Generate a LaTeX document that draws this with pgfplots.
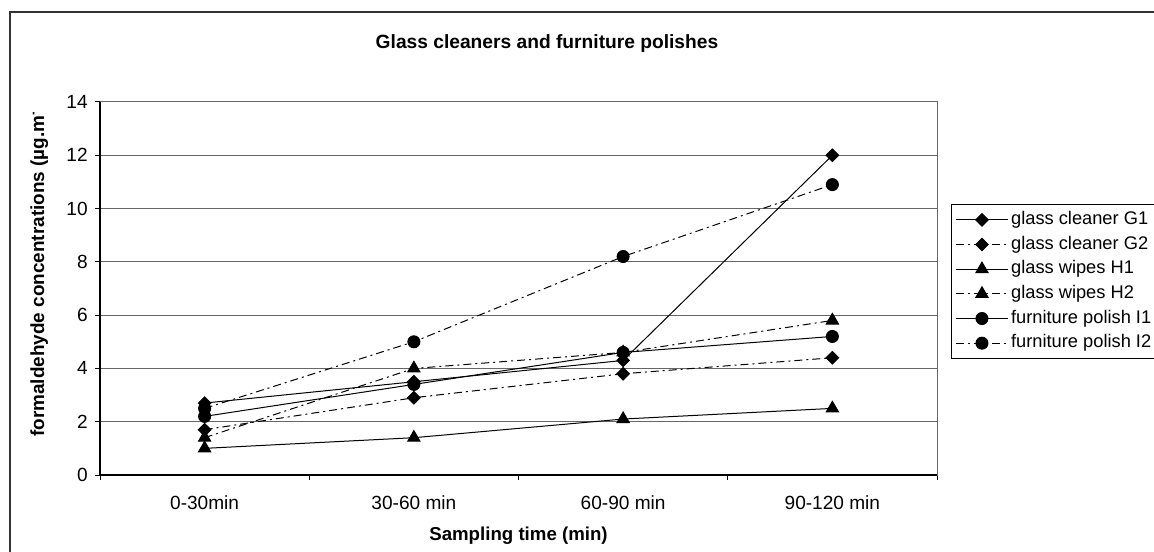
\documentclass[border=0pt]{standalone}
\usepackage{pgfplots}
\pgfplotsset{compat=1.18}
\usepackage{fontspec}
\setmainfont{Liberation Sans}
\pgfplotstableread{
x G1 G2 H1 H2 I1 I2
0 2.7 1.7 1.0 1.4 2.2 2.5
1 3.5 2.9 1.4 4.0 3.4 5.0
2 4.3 3.8 2.1 4.6 4.6 8.2
3 12.0 4.4 2.5 5.8 5.2 10.9
}\datatable
\begin{document}
\begin{tikzpicture}[x=0.75pt,y=-0.75pt]
\path[use as bounding box] (0,0) rectangle (1154,552);
\draw[line width=1pt, black!80] (10,570) -- (10,12) -- (1170,12);
\node[font=\bfseries\fontsize{14.4}{17}\selectfont] at (547,44) {Glass cleaners and furniture polishes};
\begin{scope}
\clip (0,113) rectangle (100,552);
\node[font=\bfseries\fontsize{14.2}{16}\selectfont, rotate=90, anchor=base west, inner sep=0pt] at (44,437) {formaldehyde concentrations (µg.m\textsuperscript{-3})};
\end{scope}
\begin{axis}[
  at={(75pt,-356.25pt)}, anchor=south west,
  scale only axis, width=627.75pt, height=279.75pt,
  xmin=-0.5, xmax=3.5, ymin=0, ymax=14,
  xtick={-0.5,0.5,1.5,2.5,3.5},
  x tick label as interval,
  xticklabels={0-30min,30-60 min,60-90 min,90-120 min},
  ytick={0,2,...,14},
  xtick pos=bottom, ytick pos=left,
  tick align=outside, major tick length=3.75pt,
  tick style={black, line width=0.75pt},
  ymajorgrids, grid style={gray!80!black, line width=0.75pt},
  axis line style={gray!80!black, line width=0.75pt},
  /pgf/number format/assume math mode=true,
  tick label style={font=\fontsize{14.3}{16}\selectfont},
  xticklabel style={yshift=-8pt},
  yticklabel style={xshift=-2pt},
  xlabel={Sampling time (min)},
  xlabel style={font=\bfseries\fontsize{14}{16}\selectfont, yshift=-6pt},
  legend style={at={(1.0167,0.7265)}, anchor=north west, draw=black, line width=0.75pt,
    font=\fontsize{13.7}{16}\selectfont, row sep=1.5pt, inner sep=3pt,
    nodes={inner sep=2pt, text height=10pt, text depth=3pt}},
  legend cell align=left,
  every axis plot/.append style={black, line width=0.75pt,
    legend image code/.code={\draw[mark repeat=2,mark phase=2] plot coordinates {(0pt,0pt) (19.5pt,0pt) (39pt,0pt)};}},
  after end axis/.code={\draw[black, line width=1pt] (rel axis cs:0,1) -- (rel axis cs:0,0) -- (rel axis cs:1,0);},
  clip=false,
]
\addplot[solid, mark=square*, mark size=3.3pt, mark options={rotate=45, solid}] table[x=x,y=G1] {\datatable};
\addlegendentry{glass cleaner G1}
\addplot[dash pattern=on 6pt off 3pt on 1.5pt off 3pt, mark=square*, mark size=3.3pt, mark options={rotate=45, solid}] table[x=x,y=G2] {\datatable};
\addlegendentry{glass cleaner G2}
\addplot[solid, mark=triangle*, mark size=5.3pt, mark options={solid}] table[x=x,y=H1] {\datatable};
\addlegendentry{glass wipes H1}
\addplot[dash pattern=on 6pt off 3pt on 1.5pt off 3pt, mark=triangle*, mark size=5.3pt, mark options={solid}] table[x=x,y=H2] {\datatable};
\addlegendentry{glass wipes H2}
\addplot[solid, mark=*, mark size=4.5pt, mark options={solid}] table[x=x,y=I1] {\datatable};
\addlegendentry{furniture polish I1}
\addplot[dash pattern=on 6pt off 3pt on 1.5pt off 3pt, mark=*, mark size=4.5pt, mark options={solid}] table[x=x,y=I2] {\datatable};
\addlegendentry{furniture polish I2}
\end{axis}
\end{tikzpicture}
\end{document}
